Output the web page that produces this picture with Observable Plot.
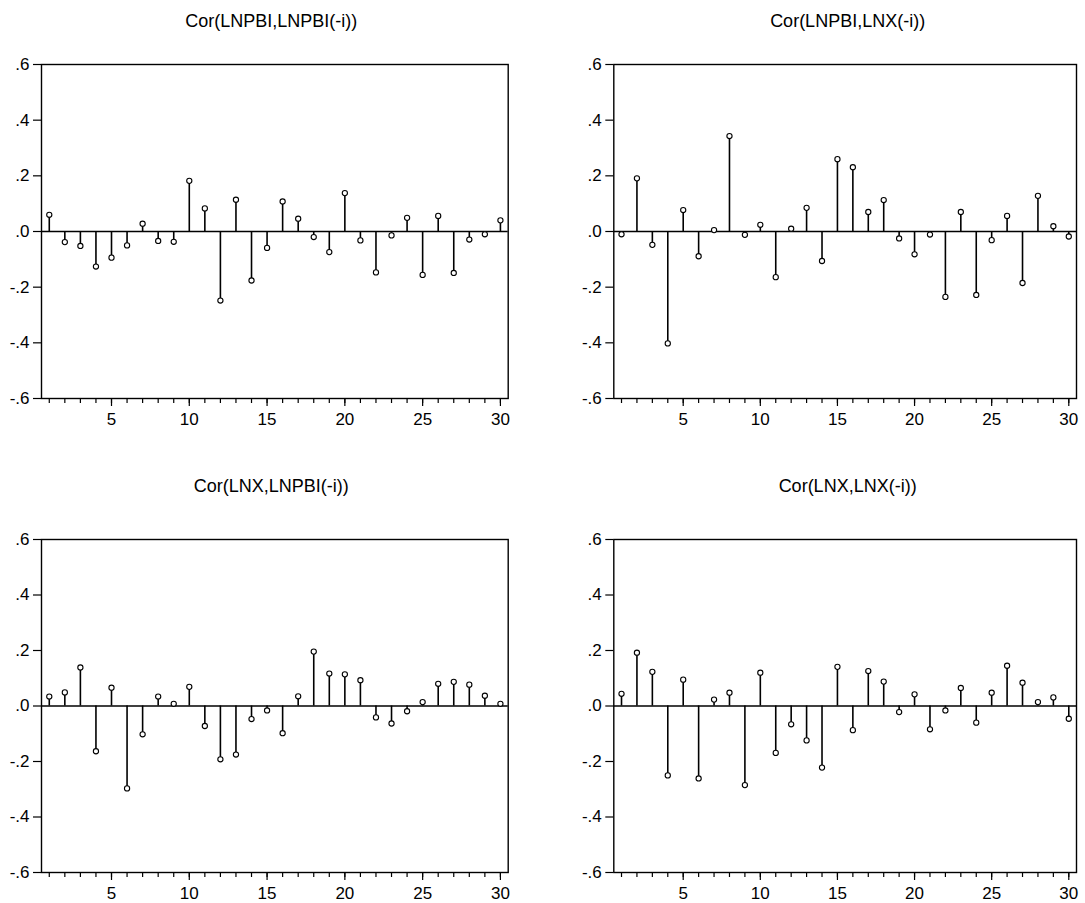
<!DOCTYPE html>
<html>
<head>
<meta charset="utf-8">
<script src="https://cdn.jsdelivr.net/npm/d3@7"></script>
<script src="https://cdn.jsdelivr.net/npm/@observablehq/plot@0.6"></script>
<style>
  html, body { margin: 0; padding: 0; background: #fff; }
  #root { position: relative; width: 1085px; height: 903px; background: #fff; font-family: "Liberation Sans", Arial, sans-serif; }
  .panel { position: absolute; }
  .title { position: absolute; font-family: "Liberation Sans", Arial, sans-serif; font-size: 18px; line-height: 18px; color: #000; text-align: center; white-space: nowrap; }
</style>
</head>
<body>
<div id="root"></div>
<script>
const lags = [1,2,3,4,5,6,7,8,9,10,11,12,13,14,15,16,17,18,19,20,21,22,23,24,25,26,27,28,29,30];
const xTickLabels = [5,10,15,20,25,30];
const yTicks = [-0.6,-0.4,-0.2,0,0.2,0.4,0.6];

const titles = ["Cor(LNPBI,LNPBI(-i))", "Cor(LNPBI,LNX(-i))", "Cor(LNX,LNPBI(-i))", "Cor(LNX,LNX(-i))"];

const corPbiPbi = [0.060,-0.038,-0.052,-0.126,-0.094,-0.050,0.028,-0.034,-0.037,0.182,
                   0.083,-0.248,0.114,-0.176,-0.059,0.108,0.046,-0.020,-0.074,0.138,
                   -0.032,-0.147,-0.014,0.049,-0.156,0.056,-0.149,-0.029,-0.010,0.040];
const corPbiX   = [-0.010,0.191,-0.048,-0.402,0.077,-0.089,0.005,0.343,-0.012,0.024,
                   -0.164,0.010,0.085,-0.106,0.260,0.231,0.070,0.113,-0.025,-0.082,
                   -0.011,-0.235,0.070,-0.228,-0.031,0.056,-0.185,0.128,0.019,-0.018];
const corXPbi   = [0.034,0.049,0.139,-0.163,0.066,-0.297,-0.102,0.034,0.008,0.069,
                   -0.072,-0.192,-0.175,-0.047,-0.016,-0.098,0.035,0.196,0.117,0.114,
                   0.093,-0.041,-0.063,-0.019,0.014,0.080,0.087,0.077,0.037,0.008];
const corXX     = [0.044,0.192,0.123,-0.250,0.095,-0.261,0.023,0.048,-0.285,0.120,
                   -0.169,-0.066,-0.124,-0.222,0.141,-0.087,0.126,0.088,-0.022,0.042,
                   -0.084,-0.016,0.065,-0.060,0.048,0.145,0.084,0.014,0.031,-0.046];

const series = [corPbiPbi, corPbiX, corXPbi, corXX];

const layout = [
  {left: 0,   top: 40,  width: 530, height: 398, ml: 41,   mr: 22.3, ty: 21},
  {left: 572, top: 40,  width: 513, height: 398, ml: 41.3, mr: 9,    ty: 21},
  {left: 0,   top: 515, width: 530, height: 397, ml: 41,   mr: 22.3, ty: 485.5},
  {left: 572, top: 515, width: 513, height: 397, ml: 41.3, mr: 9,    ty: 485.5}
];

const fmt = d => d.toFixed(1).replace("0.", ".");

const root = document.getElementById("root");

series.forEach((vals, i) => {
  const L = layout[i];
  const data = lags.map((lag, j) => ({lag, value: vals[j]}));
  const chart = Plot.plot({
    width: L.width,
    height: L.height,
    marginLeft: L.ml,
    marginRight: L.mr,
    marginTop: 24,
    marginBottom: 40,
    style: {fontFamily: "Liberation Sans, Arial, sans-serif", fontSize: "17px", background: "white", color: "black"},
    x: {domain: [0.5, 30.5], axis: null},
    y: {domain: [-0.6, 0.6], axis: null},
    marks: [
      Plot.axisY(yTicks, {tickSize: 8, tickPadding: 4, tickFormat: fmt, fontSize: 17, stroke: "black", strokeWidth: 1.2, fill: "black", label: null}),
      Plot.axisX(lags, {tickSize: 5, text: null, stroke: "black", strokeWidth: 1.2, label: null}),
      Plot.axisX(xTickLabels, {tickSize: 8, tickPadding: 6, fontSize: 17, stroke: "black", strokeWidth: 1.2, fill: "black", label: null}),
      Plot.ruleY([0], {stroke: "black", strokeWidth: 1.3}),
      Plot.ruleX(data, {x: "lag", y1: 0, y2: "value", stroke: "black", strokeWidth: 1.6}),
      Plot.dot(data, {x: "lag", y: "value", r: 2.6, fill: "white", stroke: "black", strokeWidth: 1.1}),
      Plot.frame({stroke: "black", strokeWidth: 1.4})
    ]
  });
  const wrap = document.createElement("div");
  wrap.className = "panel";
  wrap.style.left = L.left + "px";
  wrap.style.top = L.top + "px";
  wrap.appendChild(chart);
  root.appendChild(wrap);

  const t = document.createElement("div");
  t.className = "title";
  const frameLeft = L.left + L.ml;
  const frameRight = L.left + L.width - L.mr;
  const cx = (frameLeft + frameRight) / 2 + (i % 2 === 0 ? -3 : 3);
  t.style.left = (cx - 150) + "px";
  t.style.width = "300px";
  t.style.top = (L.ty - 9) + "px";
  t.textContent = titles[i];
  root.appendChild(t);
});
</script>
</body>
</html>
